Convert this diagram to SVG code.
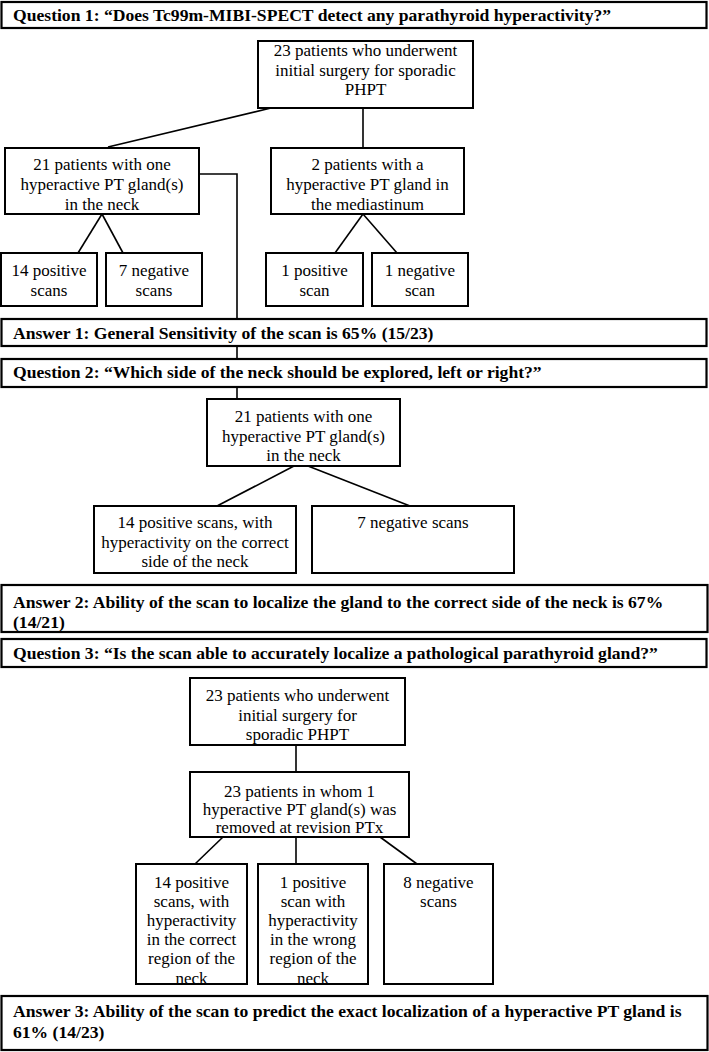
<svg xmlns="http://www.w3.org/2000/svg" width="709" height="1052" viewBox="0 0 709 1052">
<style>
.box{fill:#fff;stroke:#000;stroke-width:2}
.bar{fill:#fff;stroke:#000;stroke-width:2.2}
.t{font-family:"Liberation Serif","Times New Roman",serif;font-size:17px;fill:#000;text-anchor:middle}
.b{font-family:"Liberation Serif","Times New Roman",serif;font-size:17.6px;font-weight:bold;fill:#000}
.c{fill:none;stroke:#000;stroke-width:1.6}
</style>
<rect width="709" height="1052" fill="#fff"/>
<g id="connectors">
<line class="c" x1="271" y1="108" x2="108" y2="147"/>
<line class="c" x1="363" y1="108" x2="363" y2="147"/>
<polyline class="c" points="199,174 237,174 237,319"/>
<line class="c" x1="102" y1="214" x2="78" y2="253"/>
<line class="c" x1="102" y1="214" x2="123" y2="253"/>
<line class="c" x1="363" y1="214" x2="335" y2="253"/>
<line class="c" x1="363" y1="214" x2="397" y2="253"/>
<line class="c" x1="237" y1="346" x2="237" y2="359"/>
<line class="c" x1="237" y1="387" x2="237" y2="399"/>
<line class="c" x1="294" y1="466" x2="217" y2="506"/>
<line class="c" x1="308" y1="466" x2="410" y2="506"/>
<line class="c" x1="296" y1="745" x2="296" y2="772"/>
<line class="c" x1="223" y1="837" x2="195" y2="864"/>
<line class="c" x1="296" y1="837" x2="296" y2="864"/>
<line class="c" x1="380" y1="837" x2="417" y2="864"/>
</g>
<g id="q1">
<rect class="bar" x="1.5" y="2" width="705" height="26"/>
<text class="b" x="13" y="21">Question 1: “Does Tc99m-MIBI-SPECT detect any parathyroid hyperactivity?”</text>
</g>
<g id="n-top">
<rect class="box" x="258" y="41" width="215" height="67"/>
<text class="t" x="365.5" y="56">23 patients who underwent</text>
<text class="t" x="365.5" y="75.5">initial surgery for sporadic</text>
<text class="t" x="365.5" y="95">PHPT</text>
</g>
<g id="n-neck">
<rect class="box" x="5" y="148" width="194" height="66"/>
<text class="t" x="102" y="170">21 patients with one</text>
<text class="t" x="102" y="190">hyperactive PT gland(s)</text>
<text class="t" x="102" y="209.5">in the neck</text>
</g>
<g id="n-med">
<rect class="box" x="271" y="148" width="193" height="66"/>
<text class="t" x="367.5" y="170">2 patients with a</text>
<text class="t" x="367.5" y="190">hyperactive PT gland in</text>
<text class="t" x="367.5" y="209.5">the mediastinum</text>
</g>
<g id="n-pos14">
<rect class="box" x="1" y="253" width="96" height="53"/>
<text class="t" x="49" y="276">14 positive</text>
<text class="t" x="49" y="296">scans</text>
</g>
<g id="n-neg7">
<rect class="box" x="106" y="253" width="96" height="53"/>
<text class="t" x="154" y="276">7 negative</text>
<text class="t" x="154" y="296">scans</text>
</g>
<g id="n-pos1">
<rect class="box" x="266" y="253" width="97" height="53"/>
<text class="t" x="314.5" y="276">1 positive</text>
<text class="t" x="314.5" y="296">scan</text>
</g>
<g id="n-neg1">
<rect class="box" x="372" y="253" width="96" height="53"/>
<text class="t" x="420" y="276">1 negative</text>
<text class="t" x="420" y="296">scan</text>
</g>
<g id="a1">
<rect class="bar" x="1.5" y="319" width="705" height="27"/>
<text class="b" x="13" y="338.5">Answer 1: General Sensitivity of the scan is 65% (15/23)</text>
</g>
<g id="q2">
<rect class="bar" x="1.5" y="359" width="705" height="28"/>
<text class="b" x="13" y="378">Question 2: “Which side of the neck should be explored, left or right?”</text>
</g>
<g id="n-q2neck">
<rect class="box" x="207" y="399" width="193" height="67"/>
<text class="t" x="303.5" y="422">21 patients with one</text>
<text class="t" x="303.5" y="441.5">hyperactive PT gland(s)</text>
<text class="t" x="303.5" y="461">in the neck</text>
</g>
<g id="n-q2pos">
<rect class="box" x="94" y="506" width="202" height="67"/>
<text class="t" x="195" y="528">14 positive scans, with</text>
<text class="t" x="195" y="548">hyperactivity on the correct</text>
<text class="t" x="195" y="567">side of the neck</text>
</g>
<g id="n-q2neg">
<rect class="box" x="312" y="506" width="202" height="67"/>
<text class="t" x="413" y="528">7 negative scans</text>
</g>
<g id="a2">
<rect class="bar" x="1.5" y="585" width="706" height="47"/>
<text class="b" x="13" y="607.5">Answer 2: Ability of the scan to localize the gland to the correct side of the neck is 67%</text>
<text class="b" x="13" y="628">(14/21)</text>
</g>
<g id="q3">
<rect class="bar" x="1.5" y="639" width="705" height="28"/>
<text class="b" x="13" y="658.5">Question 3: “Is the scan able to accurately localize a pathological parathyroid gland?”</text>
</g>
<g id="n-q3top">
<rect class="box" x="190" y="678" width="215" height="67"/>
<text class="t" x="297.5" y="701">23 patients who underwent</text>
<text class="t" x="297.5" y="720.5">initial surgery for</text>
<text class="t" x="297.5" y="740">sporadic PHPT</text>
</g>
<g id="n-q3mid">
<rect class="box" x="190" y="772" width="219" height="65"/>
<text class="t" x="299.5" y="797">23 patients in whom 1</text>
<text class="t" x="299.5" y="815">hyperactive PT gland(s) was</text>
<text class="t" x="299.5" y="833">removed at revision PTx</text>
</g>
<g id="n-q3pos">
<rect class="box" x="136" y="864" width="111" height="120"/>
<text class="t" x="191.5" y="888">14 positive</text>
<text class="t" x="191.5" y="907">scans, with</text>
<text class="t" x="191.5" y="926">hyperactivity</text>
<text class="t" x="191.5" y="945">in the correct</text>
<text class="t" x="191.5" y="964">region of the</text>
<text class="t" x="191.5" y="984">neck</text>
<line x1="136" y1="984" x2="247" y2="984" stroke="#000" stroke-width="2"/>
</g>
<g id="n-q3wrong">
<rect class="box" x="258" y="864" width="110" height="120"/>
<text class="t" x="313" y="888">1 positive</text>
<text class="t" x="313" y="907">scan with</text>
<text class="t" x="313" y="926">hyperactivity</text>
<text class="t" x="313" y="945">in the wrong</text>
<text class="t" x="313" y="964">region of the</text>
<text class="t" x="313" y="984">neck</text>
<line x1="258" y1="984" x2="368" y2="984" stroke="#000" stroke-width="2"/>
</g>
<g id="n-q3neg">
<rect class="box" x="384" y="864" width="109" height="120"/>
<text class="t" x="438.5" y="888">8 negative</text>
<text class="t" x="438.5" y="907">scans</text>
</g>
<g id="a3">
<rect class="bar" x="1.5" y="996" width="706" height="54"/>
<text class="b" x="13" y="1017">Answer 3: Ability of the scan to predict the exact localization of a hyperactive PT gland is</text>
<text class="b" x="13" y="1038">61% (14/23)</text>
</g>
</svg>
